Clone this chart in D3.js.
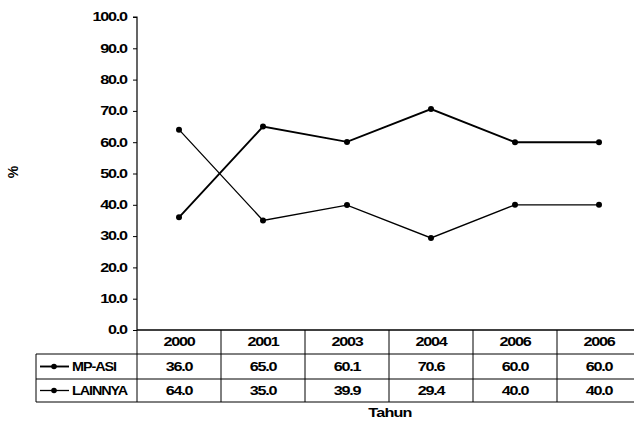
<!DOCTYPE html>
<html>
<head>
<meta charset="utf-8">
<script src="https://cdn.jsdelivr.net/npm/d3@7"></script>
<style>
  html, body { margin: 0; padding: 0; background: #fff; }
  svg { display: block; }
  text { font-family: "Liberation Sans", Arial, sans-serif; font-weight: bold; fill: #000; }
</style>
</head>
<body>
<script>
// Years shown in the data table (the last column label repeats as printed)
const years = ["2000", "2001", "2003", "2004", "2006", "2006"];
const mpasi = [36.0, 65.0, 60.1, 70.6, 60.0, 60.0];
const lainnya = [64.0, 35.0, 39.9, 29.4, 40.0, 40.0];
const seriesNames = ["MP-ASI", "LAINNYA"];
const yTicks = [0, 10, 20, 30, 40, 50, 60, 70, 80, 90, 100];

(function () {
const W = 634, H = 422;
const svg = d3.select("body").append("svg").attr("width", W).attr("height", H);

const plotL = 137, plotR = 641, plotT = 17, plotB = 330;
const rowTops = [330, 354, 379, 402];
const labelLeft = 36;
const SX = 1.35;      // wide letterforms
const FS = 12;        // font size
const LS = -0.9;      // tight tracking

const x = d3.scaleBand().domain(d3.range(years.length)).range([plotL, plotR]).padding(0);
const y = d3.scaleLinear().domain([0, 100]).range([plotB, plotT]);

// Y axis
const yAxis = d3.axisLeft(y).tickValues(yTicks).tickFormat(d3.format(".1f"))
  .tickSize(4).tickPadding(3.5);
const gy = svg.append("g").attr("transform", `translate(${plotL},0)`).call(yAxis);
gy.select(".domain").attr("stroke", "#000").attr("stroke-width", 1.2).attr("d", `M-4,${plotT}H0V${plotB}`);
gy.selectAll(".tick line").attr("stroke", "#000");
gy.selectAll(".tick text")
  .attr("font-size", FS).attr("font-family", "Liberation Sans, Arial, sans-serif")
  .attr("font-weight", "bold").attr("letter-spacing", LS)
  .attr("transform", `scale(${SX},1)`);

// Y axis title
svg.append("text").attr("transform", `translate(18,172) rotate(-90)`)
  .attr("text-anchor", "middle").attr("font-size", 14).text("%");

// Series lines
const line = d3.line().x((d, i) => x(i) + x.bandwidth() / 2).y(d => y(d));
const styles = [{ w: 1.9 }, { w: 1.3 }];
[mpasi, lainnya].forEach((vals, k) => {
  svg.append("path").datum(vals).attr("d", line)
    .attr("fill", "none").attr("stroke", "#000").attr("stroke-width", styles[k].w);
  svg.selectAll(null).data(vals).enter().append("circle")
    .attr("cx", (d, i) => x(i) + x.bandwidth() / 2).attr("cy", d => y(d))
    .attr("r", 3).attr("fill", "#000");
});

// Data table
const grid = svg.append("g").attr("stroke", "#000").attr("stroke-width", 1).attr("fill", "none");
grid.append("line").attr("x1", plotL).attr("x2", plotR).attr("y1", rowTops[0]).attr("y2", rowTops[0]).attr("stroke-width", 1.3);
[1, 2, 3].forEach(r => {
  grid.append("line").attr("x1", labelLeft).attr("x2", plotR).attr("y1", rowTops[r]).attr("y2", rowTops[r]);
});
grid.append("line").attr("x1", labelLeft).attr("x2", labelLeft).attr("y1", rowTops[1]).attr("y2", rowTops[3]);
d3.range(years.length + 1).forEach(i => {
  const xx = i < years.length ? x(i) : plotR;
  grid.append("line").attr("x1", xx).attr("x2", xx).attr("y1", rowTops[0]).attr("y2", rowTops[3]);
});

function cellText(cx, cy, str, anchor, sx) {
  svg.append("text").attr("transform", `translate(${cx},${cy}) scale(${sx || SX},1)`)
    .attr("text-anchor", anchor || "middle").attr("dy", "0.35em")
    .attr("font-size", FS).attr("letter-spacing", LS).text(str);
}

years.forEach((yr, i) => cellText(x(i) + x.bandwidth() / 2, (rowTops[0] + rowTops[1]) / 2, yr));
const fmt = d3.format(".1f");
[mpasi, lainnya].forEach((vals, k) => {
  const cy = (rowTops[k + 1] + rowTops[k + 2]) / 2;
  vals.forEach((v, i) => cellText(x(i) + x.bandwidth() / 2, cy, fmt(v)));
  // legend key
  svg.append("line").attr("x1", 40).attr("x2", 69).attr("y1", cy).attr("y2", cy)
    .attr("stroke", "#000").attr("stroke-width", styles[k].w);
  svg.append("circle").attr("cx", 54).attr("cy", cy).attr("r", 2.8).attr("fill", "#000");
  cellText(72, cy, seriesNames[k], "start", 1.2);
});

// X axis title
svg.append("text").attr("transform", `translate(${(plotL + plotR) / 2 + 1},413) scale(${SX},1)`)
  .attr("text-anchor", "middle").attr("dy", "0.35em").attr("font-size", FS)
  .attr("letter-spacing", -0.6).text("Tahun");
})();
</script>
</body>
</html>
